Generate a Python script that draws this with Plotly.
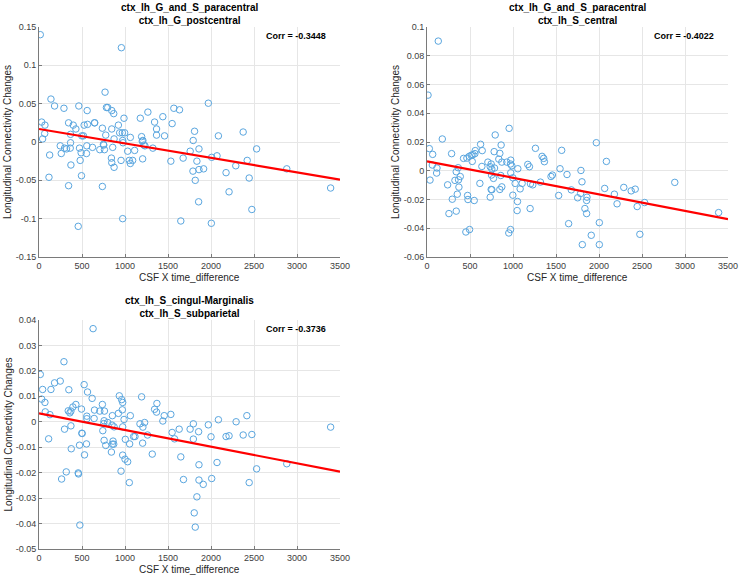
import plotly.graph_objects as go

# ---- data ----
x_ticks = [0, 500, 1000, 1500, 2000, 2500, 3000, 3500]

# ctx_lh_G_and_S_paracentral / ctx_lh_G_postcentral
x1 = [15, 958, 768, 139, 181, 290, 463, 560, 784, 799, 846, 869, 988, 1178, 1266, 1440, 1568, 1634,
      31, 69, 344, 398, 429, 525, 564, 645, 648, 737, 846, 923, 938, 969, 996, 1062, 1193, 1344, 1367,
      1367, 1460, 1548, 66, 42, 367, 498, 517, 776, 873, 973, 1208, 247, 297, 320, 363, 367, 259, 124,
      471, 556, 490, 552, 622, 707, 749, 753, 761, 857, 977, 1031, 1112, 1201, 1220, 1232, 1324, 371,
      479, 842, 846, 873, 954, 1050, 1062, 1089, 1205, 1533, 1676, 116, 494, 344, 737, 973, 456, 1649,
      1969, 1809, 1793, 2086, 2374, 1758, 1860, 2530, 2008, 2070, 1836, 2421, 1790, 1860, 1914, 2288,
      2175, 1817, 2444, 2881, 3391, 2210, 1856, 2475, 2004]
y1 = [0.140, 0.123, 0.065, 0.056, 0.047, 0.044, 0.047, 0.041, 0.045, 0.045, 0.041, 0.037, 0.031, 0.031,
      0.039, 0.033, 0.044, 0.042, 0.026, 0.022, 0.025, 0.022, 0.017, 0.022, 0.023, 0.025, 0.025, 0.018,
      0.017, 0.022, 0.012, 0.012, 0.012, 0.006, 0.007, 0.026, 0.017, 0.009, 0.008, 0.024, 0.011, 0.004,
      0.010, 0.008, 0.008, 0.009, 0.004, 0.002, 0.002, -0.005, -0.008, -0.009, -0.008, -0.001, -0.015,
      -0.017, -0.008, -0.005, -0.014, -0.015, -0.007, -0.010, -0.003, -0.004, -0.010, -0.007, -0.001,
      -0.012, -0.011, 0.001, -0.004, -0.005, -0.008, -0.030, -0.024, -0.021, -0.027, -0.033, -0.024,
      -0.024, -0.028, -0.024, -0.022, -0.025, -0.021, -0.046, -0.044, -0.057, -0.058, -0.100, -0.110,
      -0.103, 0.0506, 0.014, 0.002, 0.008, 0.013, -0.012, -0.009, -0.009, -0.020, -0.018, -0.025,
      -0.024, -0.038, -0.036, -0.035, -0.031, -0.040, -0.050, -0.047, -0.035, -0.060, -0.065, -0.078,
      -0.088, -0.106]
fit1 = [0.017, -0.049]
y1_ticks = [-0.15, -0.1, -0.05, 0, 0.05, 0.1, 0.15]

# ctx_lh_G_and_S_paracentral / ctx_lh_S_central
x2 = [131, 12, 955, 793, 178, 623, 862, 27, 66, 286, 561, 642, 781, 847, 514, 534, 557, 491, 464, 425,
      974, 526, 708, 870, 928, 971, 986, 746, 835, 1261, 1338, 1357, 1365, 1566, 1172, 1191, 1056, 638,
      735, 754, 785, 62, 116, 112, 363, 340, 974, 858, 750, 387, 325, 367, 35, 240, 371, 352, 615, 773,
      998, 1025, 1083, 1106, 1203, 1230, 1319, 1442, 1458, 1547, 1628, 1790, 1802, 1678, 1752, 1531,
      746, 754, 847, 870, 735, 472, 476, 549, 294, 998, 1052, 1048, 1199, 255, 340, 495, 452, 971, 951,
      1647, 1806, 1969, 2086, 2881, 2066, 2288, 2374, 2421, 1786, 1860, 1856, 1836, 1856, 2179, 2210,
      2444, 2530, 3391, 2004, 2475, 1910, 2004]
y2 = [0.0902, 0.0526, 0.0295, 0.0249, 0.0221, 0.0184, 0.0179, 0.0154, 0.0114, 0.0119, 0.0140, 0.0140,
      0.0133, 0.0121, 0.0107, 0.0112, 0.0119, 0.0100, 0.0088, 0.0086, 0.0074, 0.0065, 0.0060, 0.0060,
      0.0060, 0.0047, 0.0035, 0.0047, 0.0081, 0.0156, 0.0100, 0.0086, 0.0063, 0.0142, 0.0044, 0.0028,
      0.0014, 0.0030, 0.0028, 0.0012, 0.0019, 0.0040, 0.0019, -0.0016, 0.0021, -0.0007, -0.0014,
      -0.0033, -0.0030, -0.0040, -0.0067, -0.0063, -0.0065, -0.0098, -0.0114, -0.0163, -0.0088,
      -0.0053, -0.0049, -0.0088, -0.0126, -0.0088, -0.0091, -0.0098, -0.0079, -0.0040, -0.0030, 0.0014,
      -0.0026, 0.0002, -0.0077, -0.0133, -0.0188, -0.0172, -0.0130, -0.0132, -0.0130, -0.0112, -0.0184,
      -0.0172, -0.0200, -0.0207, -0.0198, -0.0170, -0.0214, -0.0277, -0.0263, -0.0298, -0.0281,
      -0.0409, -0.0426, -0.0409, -0.0433, -0.0368, -0.0514, 0.0195, 0.0065, -0.0081, -0.0123, -0.0116,
      -0.0140, -0.0128, -0.0158, -0.0184, -0.0207, -0.0263, -0.0298, -0.0163, -0.0230, -0.0249,
      -0.0221, -0.0291, -0.0361, -0.0442, -0.0449, -0.0514]
fit2 = [0.0066, -0.0336]
y2_ticks = [-0.06, -0.04, -0.02, 0, 0.02, 0.04, 0.06, 0.08, 0.1]

# ctx_lh_S_cingul-Marginalis / ctx_lh_S_subparietal
x3 = [629, 290, 15, 247, 181, 525, 42, 139, 347, 564, 934, 1193, 31, 618, 961, 973, 69, 429, 394, 494,
      1371, 1344, 1367, 340, 359, 371, 73, 127, 645, 707, 761, 737, 923, 969, 853, 989, 1062, 556, 556,
      641, 1456, 1533, 1440, 757, 799, 753, 849, 873, 1174, 1228, 1208, 973, 371, 297, 1795, 1757, 1548,
      1630, 498, 502, 742, 1576, 1262, 1100, 1116, 1205, 853, 869, 861, 757, 776, 1004, 1054, 552, 471,
      112, 375, 529, 842, 973, 1000, 1031, 1317, 1649, 954, 1050, 317, 456, 459, 263, 1680, 475, 1795,
      2417, 2292, 2086, 1969, 1856, 2000, 2175, 2210, 2374, 2475, 3391, 2070, 1860, 2530, 2881, 1860,
      2008, 1910, 2444, 1836, 1805, 1817]
y3 = [0.0366, 0.0236, 0.0186, 0.0160, 0.0153, 0.0146, 0.0127, 0.0127, 0.0126, 0.0117, 0.0102, 0.0098,
      0.0089, 0.0092, 0.0087, 0.0076, 0.0076, 0.0068, 0.0058, 0.0050, 0.0072, 0.0049, 0.0038, 0.0043,
      0.0035, 0.0042, 0.0039, 0.0028, 0.0046, 0.0042, 0.0042, 0.0068, 0.0033, 0.0047, 0.0024, 0.0009,
      0.0024, 0.0022, 0.0012, 0.0013, 0.0024, 0.0029, 0.0003, 0.0004, -0.0003, -0.0007, -0.0013,
      -0.0020, -0.0008, -0.0003, -0.0021, -0.0020, -0.0016, -0.0029, -0.0008, -0.0029, -0.0042,
      -0.0029, -0.0045, -0.0046, -0.0035, -0.0067, -0.0052, -0.0058, -0.0058, -0.0084, -0.0088,
      -0.0088, -0.0076, -0.0073, -0.0093, -0.0069, -0.0087, -0.0087, -0.0092, -0.0067, -0.0106,
      -0.0130, -0.0119, -0.0131, -0.0147, -0.0157, -0.0127, -0.0138, -0.0194, -0.0239, -0.0197,
      -0.0201, -0.0205, -0.0225, -0.0227, -0.0406, -0.0068, 0.0024, 0.0000, 0.0008, -0.0012, -0.0039,
      -0.0059, -0.0058, -0.0055, -0.0052, -0.0050, -0.0021, -0.0160, -0.0169, -0.0185, -0.0165,
      -0.0229, -0.0223, -0.0246, -0.0239, -0.0295, -0.0358, -0.0414]
fit3 = [0.0033, -0.0196]
y3_ticks = [-0.05, -0.04, -0.03, -0.02, -0.01, 0, 0.01, 0.02, 0.03, 0.04]

fit_x = [0, 3500]

panels = [
    ("ctx_lh_G_and_S_paracentral", "ctx_lh_G_postcentral", "Corr = -0.3448", x1, y1, fit1, y1_ticks),
    ("ctx_lh_G_and_S_paracentral", "ctx_lh_S_central", "Corr = -0.4022", x2, y2, fit2, y2_ticks),
    ("ctx_lh_S_cingul-Marginalis", "ctx_lh_S_subparietal", "Corr = -0.3736", x3, y3, fit3, y3_ticks),
]

W, H = 740, 580
# plot boxes in pixels: left, right, top, bottom
boxes = [(39, 340, 27, 257), (427, 728, 27, 257), (39, 340, 320, 549)]

FONT = "Liberation Sans, Arial, Helvetica, sans-serif"
fig = go.Figure()
ann = []

for i, (t1, t2, corr, xs, ys, fit, yt) in enumerate(panels):
    n = "" if i == 0 else str(i + 1)
    l, r, t, b = boxes[i]
    xd = [l / W, r / W]
    yd = [1 - b / H, 1 - t / H]

    fig.add_trace(go.Scatter(
        x=xs, y=ys, mode="markers",
        marker=dict(symbol="circle-open", size=6.5, color="#5aa6df", line=dict(width=1)),
        xaxis="x" + n, yaxis="y" + n, showlegend=False,
    ))
    fig.add_trace(go.Scatter(
        x=fit_x, y=fit, mode="lines",
        line=dict(color="#ff0000", width=2.2),
        xaxis="x" + n, yaxis="y" + n, showlegend=False,
    ))

    common = dict(
        showgrid=True, gridcolor="#e6e6e6", gridwidth=1,
        showline=True, linecolor="#7a7a7a", linewidth=1,
        ticks="inside", ticklen=3, tickcolor="#7a7a7a",
        tickfont=dict(family=FONT, size=9, color="#404040"),
        zeroline=False, mirror=False, automargin=False,
    )
    fig.layout["xaxis" + n] = dict(
        common, domain=xd, range=[0, 3500], anchor="y" + n,
        tickvals=x_ticks, ticktext=[str(v) for v in x_ticks],
    )
    fig.layout["yaxis" + n] = dict(
        common, domain=yd, range=[yt[0], yt[-1]], anchor="x" + n,
        tickvals=yt, ticktext=[("%g" % v) for v in yt],
    )

    cx = (l + r) / 2 / W
    ann.append(dict(
        x=cx, y=yd[1], xref="paper", yref="paper", xanchor="center", yanchor="bottom",
        yshift=-1, showarrow=False, align="center",
        text="<b>%s</b><br><b>%s</b>" % (t1, t2),
        font=dict(family=FONT, size=10, color="#000000"),
    ))
    ann.append(dict(
        x=xd[1], y=yd[1], xref="paper", yref="paper", xanchor="right", yanchor="top",
        xshift=-12, yshift=-2, showarrow=False,
        text="<b>%s</b>" % corr,
        font=dict(family=FONT, size=9, color="#000000"),
    ))
    ann.append(dict(
        x=cx, y=yd[0], xref="paper", yref="paper", xanchor="center", yanchor="top",
        yshift=-13, showarrow=False, text="CSF X time_difference",
        font=dict(family=FONT, size=10, color="#262626"),
    ))
    ann.append(dict(
        x=(l - 31) / W, y=(yd[0] + yd[1]) / 2, xref="paper", yref="paper",
        xanchor="center", yanchor="middle", textangle=-90, showarrow=False,
        text="Longitudinal Connectivity Changes",
        font=dict(family=FONT, size=10, color="#262626"),
    ))

fig.update_layout(
    width=W, height=H,
    margin=dict(l=0, r=0, t=0, b=0),
    paper_bgcolor="white", plot_bgcolor="white",
    annotations=ann,
    font=dict(family=FONT),
)

# the page body has a default 8px margin; drop it so the figure fills the window
fig.write_html("out.html", config={"displayModeBar": False},
               post_script="document.body.style.margin='0';")
